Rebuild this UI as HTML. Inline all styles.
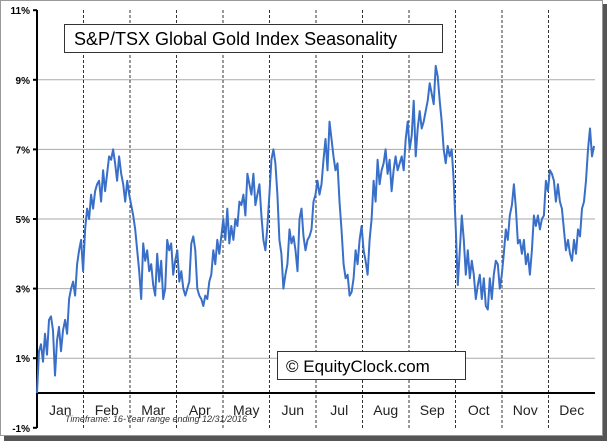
<!DOCTYPE html>
<html><head><meta charset="utf-8"><style>
body{margin:0;background:#fff;width:609px;height:443px;overflow:hidden;font-family:"Liberation Sans",sans-serif}
</style></head><body>
<svg width="609" height="443" id="chart">
<rect x="4" y="4" width="603" height="437" fill="#555"/>
<rect x="0.5" y="0.5" width="602" height="435" fill="#fff" stroke="#999"/>
<g id="grid"></g>
<g id="series"></g>
<rect x="64.5" y="24.5" width="378" height="28" fill="#fff" stroke="#333"/>
<text x="74" y="45" font-size="18" fill="#000">S&amp;P/TSX Global Gold Index Seasonality</text>
<rect x="277.5" y="351.5" width="188" height="28" fill="#fff" stroke="#333"/>
<text x="286" y="372" font-size="17" fill="#000">© EquityClock.com</text>
<text x="65" y="422" font-size="9" font-style="italic" fill="#333">Timeframe: 16-Year range ending 12/31/2016</text>
</svg>
<script>
const months=["Jan","Feb","Mar","Apr","May","Jun","Jul","Aug","Sep","Oct","Nov","Dec"];
const yTicks=[-1,1,3,5,7,9,11];
const yTickLabels=["-1%","1%","3%","5%","7%","9%","11%"];
const values=[0,1.2,1.4,0.9,1.7,1.1,2.1,2.2,1.8,0.5,1.5,1.9,1.2,1.8,2.1,1.7,2.7,3.0,3.2,2.8,3.7,4.1,4.4,3.5,4.7,5.3,5.0,5.7,5.3,5.8,6.0,6.1,5.5,6.4,5.8,6.3,6.8,6.7,7.0,6.6,6.1,6.8,6.3,6.0,5.5,6.1,5.7,5.4,5.1,4.7,4.1,3.5,2.7,4.3,3.8,4.1,3.5,3.7,3.1,2.8,4.0,3.2,3.8,2.7,3.0,4.4,4.1,4.3,3.4,3.8,4.1,3.2,3.5,3.0,2.8,3.0,3.2,4.3,4.5,4.1,3.0,2.8,2.7,2.5,2.8,2.7,3.2,3.4,4.1,3.7,4.4,4.0,4.5,5.0,4.4,5.3,4.3,4.8,4.4,5.0,4.8,5.5,5.4,5.7,5.1,6.3,6.0,5.7,6.3,5.4,5.7,6.0,5.1,4.4,4.1,4.8,5.7,6.7,7.0,6.6,5.7,4.4,4.0,3.0,3.4,3.7,4.7,4.3,4.5,4.1,3.5,5.0,5.3,4.5,4.1,4.4,4.5,4.7,5.5,5.7,6.1,5.7,6.0,6.7,7.3,6.4,7.8,7.3,6.8,6.4,6.6,5.5,4.7,3.7,3.3,3.4,2.8,2.9,3.3,4.1,3.7,4.4,4.8,4.1,3.8,3.4,4.4,5.0,6.1,5.5,6.7,6.0,6.4,6.6,7.0,6.3,6.7,5.8,6.4,6.8,6.4,6.6,6.8,6.4,7.3,7.8,7.0,7.4,8.4,6.8,7.6,8.1,7.6,7.8,8.1,8.4,8.9,8.6,8.3,9.4,9.1,8.4,7.8,7.0,6.6,7.1,6.8,7.0,6.1,4.7,3.1,4.1,5.1,4.4,3.4,4.1,3.3,3.8,3.4,2.7,3.1,3.4,2.7,3.3,2.5,2.4,3.3,2.7,3.4,3.8,3.7,3.0,3.4,4.0,4.7,4.4,5.1,5.4,6.0,5.3,4.3,4.4,4.0,4.4,3.7,4.0,3.4,4.1,5.1,4.8,5.1,4.7,5.0,5.1,6.1,5.8,6.4,6.3,6.1,5.5,6.0,5.5,5.3,4.7,4.1,4.4,4.0,3.8,4.4,4.0,4.7,4.5,5.3,5.5,6.1,7.0,7.6,6.8,7.1];
const L=37,R=595,T=10,B=428;
const yS=v=>393-v*34.8;
const xS=i=>L+i*(R-1-L)/(values.length-1);
const NS="http://www.w3.org/2000/svg";
const g=document.getElementById('grid'),s=document.getElementById('series');
function mk(tag,attrs,parent){const e=document.createElementNS(NS,tag);for(const k in attrs)e.setAttribute(k,attrs[k]);parent.appendChild(e);return e;}
yTicks.forEach((v,i)=>{
 const y=yS(v);
 if(v>0&&v<11){const ln=mk('line',{x1:L,x2:R,y1:y,y2:y,stroke:'#aaa','stroke-width':1},g);
 
 }
 const tk=mk('line',{x1:L-4,x2:L,y1:y,y2:y,stroke:'#000','stroke-width':2},g);
 
 
 const t=mk('text',{x:L-7,y:y+4,'font-size':10,'font-weight':'bold','text-anchor':'end',fill:'#000'},g);
 t.textContent=yTickLabels[i];
 
 
});
const mw=(R-L)/12;
months.forEach((m,i)=>{
 if(i>0){const d=mk('line',{x1:L+i*mw,x2:L+i*mw,y1:T,y2:B,stroke:'#333','stroke-width':1,'stroke-dasharray':'3,2'},g);
 
 }
 const t=mk('text',{x:L+(i+0.5)*mw,y:415,'font-size':14,'text-anchor':'middle',fill:'#222'},g);
 t.textContent=m;
 
 
});
const z=mk('line',{x1:L,x2:R,y1:yS(0),y2:yS(0),stroke:'#000','stroke-width':2},g);


const ax=mk('line',{x1:L,x2:L,y1:T,y2:B,stroke:'#000','stroke-width':2},g);


const p=mk('polyline',{points:values.map((v,i)=>xS(i).toFixed(1)+','+yS(v).toFixed(1)).join(' '),fill:'none',stroke:'#3a6fc8','stroke-width':2,'stroke-linejoin':'round'},s);


</script>
</body></html>
